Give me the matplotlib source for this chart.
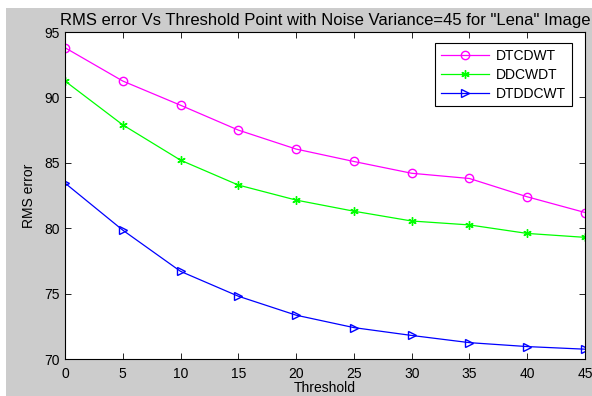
import numpy as np
import matplotlib
matplotlib.use('Agg')
import matplotlib.pyplot as plt
from matplotlib.patches import Rectangle

threshold = [0, 5, 10, 15, 20, 25, 30, 35, 40, 45]
dtcdwt = [93.8, 91.25, 89.4, 87.5, 86.05, 85.1, 84.2, 83.8, 82.4, 81.2]
ddcwdt = [91.25, 87.9, 85.2, 83.3, 82.15, 81.3, 80.55, 80.25, 79.6, 79.3]
dtddcwt = [83.45, 79.85, 76.7, 74.8, 73.35, 72.4, 71.8, 71.25, 70.95, 70.75]

plt.rcParams['font.family'] = ['Liberation Sans', 'DejaVu Sans']
plt.rcParams['font.size'] = 10

fig = plt.figure(figsize=(5.92, 3.96), dpi=100, facecolor='white')
# grey MATLAB-style background with a thin white border on top/left
fig.patches.append(Rectangle((6 / 592, 0), 1, (396 - 8) / 396, transform=fig.transFigure,
                             facecolor='#cccccc', edgecolor='none', zorder=-1))

ax = fig.add_axes([65 / 592, 37 / 396, 520 / 592, 327 / 396])
ax.plot(threshold, dtcdwt, color='#ff00ff', marker='o', markersize=6, markerfacecolor='none',
        linewidth=0.9, label='DTCDWT')
ax.plot(threshold, ddcwdt, color='#00ff00', marker=(6, 2, 0), markersize=6,
        linewidth=0.9, label='DDCWDT')
ax.plot(threshold, dtddcwt, color='#0000ff', marker='>', markersize=6, markerfacecolor='none',
        linewidth=0.9, label='DTDDCWT')

ax.set_xlim(0, 45)
ax.set_ylim(70, 95)
ax.set_xticks(np.arange(0, 46, 5))
ax.set_yticks(np.arange(70, 96, 5))
ax.tick_params(direction='in', top=True, right=True, length=4, width=0.6, pad=4)
ax.tick_params(axis='x', pad=6)
for s in ax.spines.values():
    s.set_linewidth(0.8)

ax.set_xlabel('Threshold', labelpad=0)
ax.set_ylabel('RMS error', labelpad=6)
ax.set_title('RMS error Vs Threshold Point with Noise Variance=45 for "Lena" Image', pad=5)

leg = ax.legend(loc='upper right', bbox_to_anchor=(0.975, 0.965), fancybox=False,
                edgecolor='black', framealpha=1, handlelength=3.5, borderpad=0.4,
                labelspacing=0.35, handletextpad=0.5, borderaxespad=0)
leg.get_frame().set_linewidth(0.8)

fig.savefig('out.png', dpi=100, facecolor=fig.get_facecolor())
